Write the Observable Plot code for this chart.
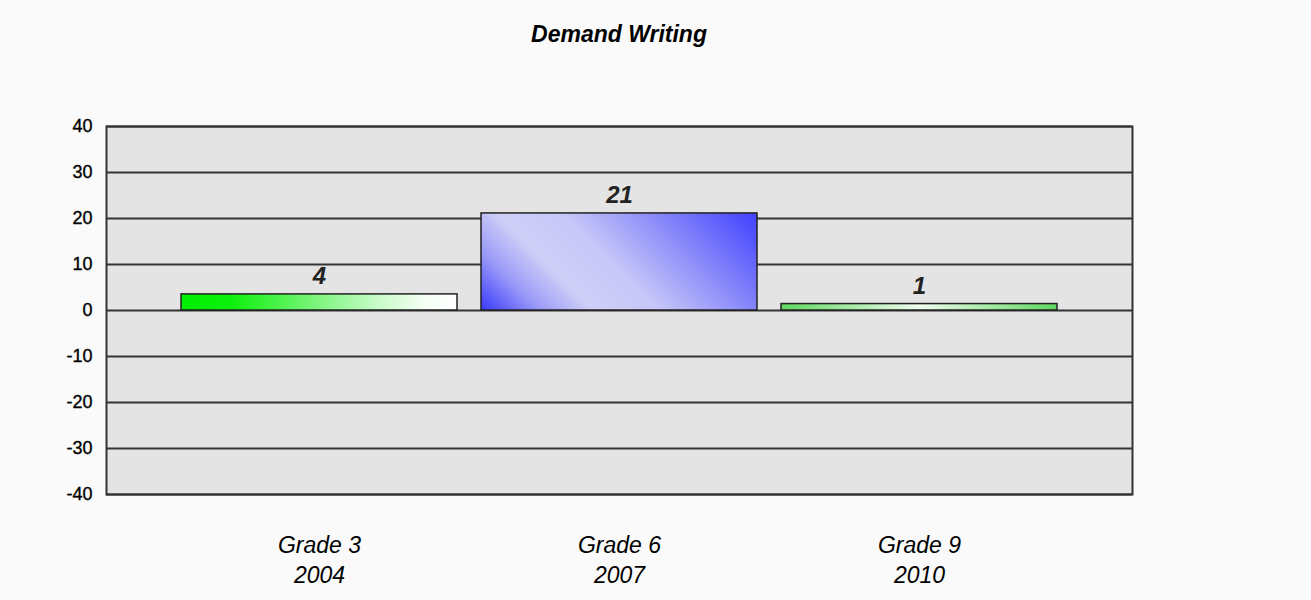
<!DOCTYPE html>
<html><head><meta charset="utf-8">
<script src="https://cdn.jsdelivr.net/npm/d3@7"></script>
<script src="https://cdn.jsdelivr.net/npm/@observablehq/plot@0.6"></script>
<style>
body{margin:0;background:#fafafa;font-family:Arial,"Liberation Sans",sans-serif;}
#wrap{position:relative;width:1311px;height:600px;overflow:hidden;}
#title{position:absolute;left:106px;width:1026px;top:0;height:60px;box-sizing:border-box;padding-top:23px;line-height:23px;font-size:23px;font-weight:bold;font-style:italic;text-align:center;color:#000;}
#chart{position:absolute;left:0;top:60px;}
</style></head><body>
<div id="wrap"><div id="title">Demand Writing</div><div id="chart"></div></div>
<script>
const grades = ["Grade 3", "Grade 6", "Grade 9"];
const years = ["2004", "2007", "2010"];
const values = [3.5, 21.1, 1.4];
const gradients = ["gGreen", "gBlue", "gLight"];
const yTicks = [-40, -30, -20, -10, 0, 10, 20, 30, 40];

const data = grades.map((g, i) => ({grade: g, year: years[i], value: values[i], grad: gradients[i]}));

const plot = Plot.plot({
  width: 1311, height: 540, marginTop: 66, marginBottom: 106, marginLeft: 106, marginRight: 179,
  style: {background: "#fafafa", fontFamily: "Arial, 'Liberation Sans', sans-serif"},
  x: {domain: grades, paddingInner: 0.08, paddingOuter: 0.25, axis: null},
  y: {domain: [-40, 40], axis: null},
  color: {type: "identity"},
  marks: [
    Plot.frame({fill: "#e4e4e4", stroke: null}),
    Plot.ruleY(yTicks, {stroke: "#333", strokeWidth: 2}),
    Plot.barY(data, {x: "grade", y: "value", fill: d => `url(#${d.grad})`, stroke: "#222", strokeWidth: 1.5}),
    Plot.text(data, {x: "grade", y: "value", text: d => String(Math.round(d.value)), lineAnchor: "bottom", dy: -10,
      fontSize: 24, fontWeight: "bold", fontStyle: "italic", fill: "#222"}),
    Plot.axisY(yTicks, {tickSize: 0, tickPadding: 14, fontSize: 18, fill: "#000", label: null, tickFormat: d => String(d)}),
    Plot.text(data, {x: "grade", frameAnchor: "bottom", text: d => `${d.grade}\n${d.year}`, lineAnchor: "top", dy: 37,
      lineHeight: 1.3, fontSize: 23, fontStyle: "italic", fill: "#000"}),
    Plot.frame({stroke: "#333", strokeWidth: 2})
  ]
});

const svg = d3.select(plot);
svg.selectAll("g[aria-label='y-axis tick label'] text").attr("stroke", "#000").attr("stroke-width", 0.35);
const defs = svg.insert("defs", ":first-child");
function addStops(g, stops) {
  stops.forEach(([o, c]) => g.append("stop").attr("offset", o).attr("stop-color", c));
}
addStops(defs.append("linearGradient").attr("id", "gGreen").attr("x1", 0).attr("y1", 0).attr("x2", 1).attr("y2", 0),
  [[0, "#00ee00"], [0.18, "#0cf00c"], [0.45, "#6ef46e"], [0.7, "#c4fac4"], [0.88, "#f4fff4"], [1, "#ffffff"]]);
addStops(defs.append("linearGradient").attr("id", "gLight").attr("x1", 0).attr("y1", 0).attr("x2", 1).attr("y2", 0),
  [[0, "#5ed85e"], [0.5, "#effcef"], [1, "#5ed85e"]]);
const blue = defs.append("linearGradient").attr("id", "gBlue").attr("gradientUnits", "userSpaceOnUse");
addStops(blue, [[0, "#3a3aff"], [0.16, "#9a9af7"], [0.3, "#cfcff8"], [0.48, "#c6c6f8"], [0.7, "#8e8efa"], [1, "#4040ff"]]);
svg.selectAll("rect").filter(function() { return this.getAttribute("fill") === "url(#gBlue)"; }).each(function() {
  const x = +this.getAttribute("x"), y = +this.getAttribute("y"), w = +this.getAttribute("width"), h = +this.getAttribute("height");
  const s = (w + h) / 2;
  blue.attr("x1", x).attr("y1", y + h).attr("x2", x + s).attr("y2", y + h - s);
});

document.getElementById("chart").appendChild(plot);
</script>
</body></html>
